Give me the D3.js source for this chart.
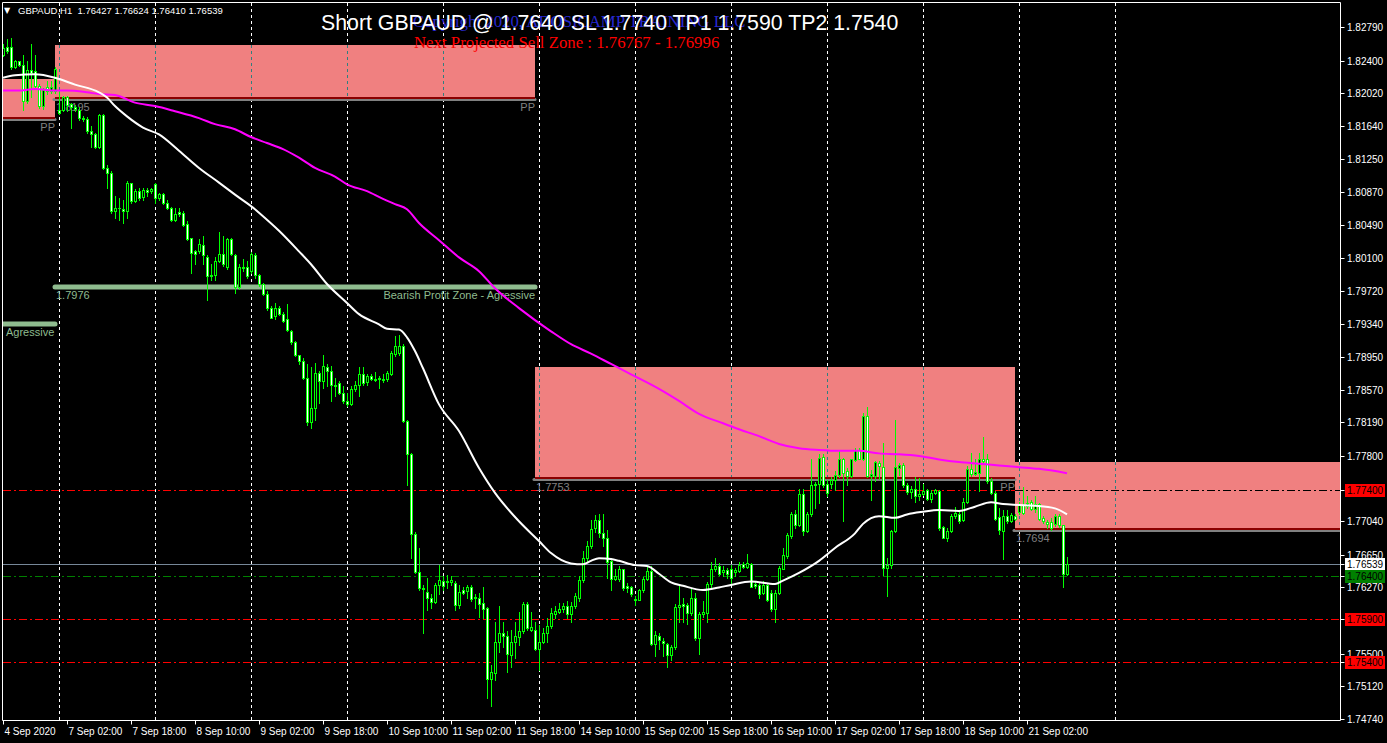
<!DOCTYPE html>
<html><head><meta charset="utf-8">
<script src="https://cdn.jsdelivr.net/npm/d3@7"></script>
<style>html,body{margin:0;padding:0;background:#000;overflow:hidden}</style>
</head><body>
<svg id="chart" width="1387" height="743"></svg>
<script>
// ---------------- DATA ----------------
const opens = [
1.8247,1.8256,1.8256,1.8232,1.8239,1.8235,1.8193,1.8229,1.8228,1.8210,
1.8187,1.8209,1.8204,1.8204,1.8183,1.8183,1.8197,1.8189,1.8186,1.8183,
1.8173,1.8172,1.8158,1.8154,1.8139,1.8177,1.8115,1.8109,1.8065,1.8069,
1.8067,1.8065,1.8097,1.8077,1.8088,1.8081,1.8089,1.8088,1.8096,1.8080,
1.8085,1.8074,1.8069,1.8054,1.8064,1.8063,1.8050,1.8033,1.8018,1.8018,
1.8025,1.8012,1.7991,1.7991,1.8007,1.8015,1.8000,1.8032,1.8014,1.7976,
1.8000,1.8000,1.7995,1.8014,1.7991,1.7980,1.7968,1.7952,1.7943,1.7952,
1.7945,1.7939,1.7925,1.7913,1.7897,1.7890,1.7871,1.7820,1.7836,1.7877,
1.7867,1.7884,1.7879,1.7863,1.7865,1.7853,1.7844,1.7840,1.7858,1.7863,
1.7875,1.7866,1.7873,1.7869,1.7869,1.7870,1.7869,1.7875,1.7899,1.7900,
1.7908,1.7821,1.7782,1.7689,1.7645,1.7626,1.7622,1.7615,1.7610,1.7630,
1.7635,1.7633,1.7633,1.7632,1.7607,1.7624,1.7623,1.7628,1.7616,1.7615,
1.7609,1.7603,1.7521,1.7527,1.7564,1.7574,1.7571,1.7549,1.7564,1.7569,
1.7576,1.7608,1.7578,1.7578,1.7555,1.7564,1.7574,1.7582,1.7596,1.7599,
1.7602,1.7605,1.7596,1.7605,1.7615,1.7636,1.7661,1.7675,1.7696,1.7706,
1.7690,1.7684,1.7658,1.7637,1.7637,1.7648,1.7629,1.7628,1.7614,1.7613,
1.7624,1.7637,1.7646,1.7561,1.7571,1.7565,1.7561,1.7548,1.7558,1.7604,
1.7608,1.7607,1.7597,1.7615,1.7568,1.7596,1.7597,1.7631,1.7648,1.7652,
1.7645,1.7647,1.7648,1.7645,1.7646,1.7654,1.7651,1.7654,1.7631,1.7630,
1.7620,1.7630,1.7620,1.7602,1.7620,1.7649,1.7664,1.7687,1.7712,1.7700,
1.7736,1.7693,1.7713,1.7747,1.7747,1.7779,1.7747,1.7747,1.7752,1.7758,
1.7777,1.7763,1.7757,1.7775,1.7787,1.7777,1.7826,1.7757,1.7757,1.7772,
1.7767,1.7650,1.7653,1.7693,1.7766,1.7769,1.7746,1.7738,1.7741,1.7733,
1.7736,1.7740,1.7730,1.7737,1.7739,1.7697,1.7685,1.7693,1.7710,1.7713,
1.7706,1.7726,1.7765,1.7759,1.7760,1.7776,1.7776,1.7751,1.7737,1.7709,
1.7693,1.7710,1.7704,1.7710,1.7715,1.7723,1.7722,1.7726,1.7718,1.7724,
1.7708,1.7703,1.7703,1.7701,1.7710,1.7700,1.76427];
const highs = [
1.8259,1.8265,1.8266,1.8241,1.8240,1.8247,1.8239,1.8259,1.8247,1.8213,
1.8208,1.8216,1.8216,1.8232,1.8204,1.8199,1.8199,1.8191,1.8188,1.8186,
1.8175,1.8174,1.8164,1.8156,1.8178,1.8178,1.8119,1.8111,1.8082,1.8080,
1.8078,1.8100,1.8098,1.8090,1.8092,1.8092,1.8092,1.8092,1.8098,1.8086,
1.8086,1.8078,1.8070,1.8069,1.8069,1.8065,1.8053,1.8034,1.8020,1.8032,
1.8036,1.8014,1.8003,1.8011,1.8040,1.8036,1.8034,1.8034,1.8015,1.8003,
1.8009,1.8007,1.8017,1.8016,1.7992,1.7981,1.7972,1.7954,1.7958,1.7954,
1.7947,1.7957,1.7926,1.7914,1.7898,1.7894,1.7887,1.7883,1.7888,1.7879,
1.7898,1.7887,1.7885,1.7871,1.7867,1.7861,1.7853,1.7861,1.7867,1.7883,
1.7883,1.7875,1.7875,1.7878,1.7873,1.7875,1.7879,1.7902,1.7919,1.7921,
1.7910,1.7822,1.7783,1.7692,1.7673,1.7630,1.7638,1.7619,1.7632,1.7653,
1.7640,1.7642,1.7640,1.7634,1.7630,1.7628,1.7630,1.7630,1.7619,1.7621,
1.7627,1.7604,1.7537,1.7587,1.7605,1.7587,1.7576,1.7578,1.7587,1.7599,
1.7610,1.7610,1.7599,1.7587,1.7583,1.7580,1.7591,1.7603,1.7605,1.7609,
1.7609,1.7611,1.7610,1.7621,1.7640,1.7670,1.7681,1.7706,1.7711,1.7712,
1.7713,1.7694,1.7661,1.7648,1.7652,1.7649,1.7632,1.7629,1.7617,1.7625,
1.7639,1.7652,1.7652,1.7576,1.7574,1.7568,1.7562,1.7560,1.7608,1.7630,
1.7615,1.7609,1.7626,1.7621,1.7598,1.7611,1.7633,1.7657,1.7661,1.7656,
1.7652,1.7650,1.7653,1.7650,1.7657,1.7657,1.7666,1.7655,1.7634,1.7632,
1.7634,1.7632,1.7624,1.7624,1.7652,1.7673,1.7690,1.7715,1.7717,1.7742,
1.7741,1.7715,1.7777,1.7750,1.7782,1.7782,1.7752,1.7756,1.7762,1.7787,
1.7778,1.7766,1.7777,1.7789,1.7789,1.7830,1.7837,1.7764,1.7774,1.7774,
1.7795,1.7661,1.7694,1.7822,1.7772,1.7772,1.7748,1.7745,1.7755,1.7754,
1.7747,1.7742,1.7740,1.7742,1.7740,1.7699,1.7696,1.7712,1.7721,1.7716,
1.7731,1.7768,1.7783,1.7776,1.7783,1.7802,1.7782,1.7754,1.7739,1.7719,
1.7717,1.7717,1.7714,1.7712,1.7727,1.7744,1.7733,1.7729,1.7733,1.7725,
1.7710,1.7706,1.7708,1.7712,1.7712,1.7700,1.76624];
const lows = [
1.8245,1.8249,1.8230,1.8231,1.8234,1.8182,1.8191,1.8197,1.8208,1.8185,
1.8184,1.8201,1.8202,1.8202,1.8178,1.8181,1.8181,1.8162,1.8181,1.8171,
1.8170,1.8156,1.8139,1.8138,1.8138,1.8114,1.8092,1.8063,1.8057,1.8055,
1.8051,1.8057,1.8074,1.8076,1.8078,1.8078,1.8082,1.8086,1.8074,1.8078,
1.8073,1.8067,1.8053,1.8053,1.8059,1.8048,1.8031,1.7993,1.8003,1.8016,
1.8003,1.7961,1.7985,1.7985,1.8006,1.8001,1.7998,1.8014,1.7970,1.7974,
1.7995,1.7987,1.7993,1.7987,1.7978,1.7967,1.7950,1.7940,1.7939,1.7944,
1.7936,1.7925,1.7910,1.7896,1.7887,1.7869,1.7816,1.7813,1.7822,1.7842,
1.7859,1.7861,1.7844,1.7850,1.7852,1.7842,1.7838,1.7839,1.7856,1.7850,
1.7863,1.7863,1.7868,1.7867,1.7859,1.7866,1.7867,1.7874,1.7896,1.7898,
1.7820,1.7746,1.7661,1.7644,1.7624,1.7574,1.7601,1.7603,1.7609,1.7619,
1.7624,1.7626,1.7630,1.7601,1.7603,1.7619,1.7615,1.7611,1.7603,1.7593,
1.7591,1.7498,1.7489,1.7519,1.7552,1.7558,1.7529,1.7535,1.7545,1.7560,
1.7574,1.7578,1.7576,1.7554,1.7531,1.7562,1.7564,1.7580,1.7591,1.7597,
1.7599,1.7591,1.7587,1.7603,1.7611,1.7633,1.7657,1.7673,1.7692,1.7686,
1.7675,1.7638,1.7624,1.7636,1.7634,1.7624,1.7622,1.7617,1.7607,1.7612,
1.7622,1.7636,1.7560,1.7547,1.7556,1.7547,1.7535,1.7543,1.7556,1.7587,
1.7587,1.7585,1.7595,1.7566,1.7550,1.7593,1.7587,1.7628,1.7646,1.7642,
1.7640,1.7638,1.7632,1.7640,1.7645,1.7650,1.7650,1.7627,1.7626,1.7615,
1.7619,1.7611,1.7600,1.7587,1.7619,1.7648,1.7661,1.7684,1.7696,1.7699,
1.7688,1.7691,1.7710,1.7719,1.7725,1.7744,1.7733,1.7743,1.7740,1.7756,
1.7704,1.7746,1.7756,1.7774,1.7776,1.7775,1.7756,1.7729,1.7751,1.7753,
1.7642,1.7617,1.7650,1.7692,1.7758,1.7744,1.7736,1.7731,1.7727,1.7729,
1.7734,1.7729,1.7727,1.7736,1.7694,1.7684,1.7681,1.7692,1.7708,1.7702,
1.7704,1.7725,1.7757,1.7758,1.7739,1.7772,1.7749,1.7736,1.7706,1.7689,
1.7660,1.7702,1.7703,1.7706,1.7712,1.7712,1.7720,1.7717,1.7715,1.7706,
1.7702,1.7696,1.7694,1.7699,1.7697,1.7628,1.76410];
const closes = [
1.8254,1.8251,1.8232,1.8239,1.8235,1.8193,1.8229,1.8226,1.8210,1.8187,
1.8206,1.8204,1.8209,1.8230,1.8179,1.8197,1.8188,1.8186,1.8184,1.8173,
1.8172,1.8158,1.8154,1.8139,1.8177,1.8115,1.8109,1.8065,1.8069,1.8068,
1.8065,1.8097,1.8077,1.8088,1.8080,1.8089,1.8087,1.8090,1.8080,1.8085,
1.8074,1.8069,1.8054,1.8062,1.8061,1.8049,1.8032,1.8016,1.8015,1.8026,
1.8014,1.7989,1.7989,1.8007,1.8015,1.8003,1.8032,1.8015,1.7976,1.8000,
1.7999,1.7989,1.8015,1.7990,1.7980,1.7968,1.7952,1.7941,1.7952,1.7945,
1.7937,1.7926,1.7912,1.7897,1.7890,1.7871,1.7820,1.7836,1.7877,1.7867,
1.7885,1.7879,1.7862,1.7861,1.7853,1.7844,1.7840,1.7858,1.7862,1.7875,
1.7865,1.7873,1.7869,1.7868,1.7871,1.7868,1.7877,1.7900,1.7908,1.7908,
1.7821,1.7782,1.7689,1.7645,1.7626,1.7625,1.7615,1.7610,1.7630,1.7636,
1.7629,1.7635,1.7636,1.7607,1.7622,1.7621,1.7628,1.7614,1.7615,1.7608,
1.7602,1.7521,1.7529,1.7564,1.7574,1.7571,1.7550,1.7564,1.7570,1.7576,
1.7608,1.7580,1.7581,1.7556,1.7564,1.7574,1.7582,1.7597,1.7600,1.7602,
1.7605,1.7596,1.7605,1.7617,1.7636,1.7661,1.7675,1.7695,1.7706,1.7690,
1.7685,1.7657,1.7637,1.7640,1.7648,1.7626,1.7626,1.7619,1.7612,1.7624,
1.7637,1.7646,1.7561,1.7572,1.7566,1.7562,1.7548,1.7558,1.7604,1.7607,
1.7605,1.7597,1.7615,1.7568,1.7596,1.7599,1.7631,1.7649,1.7652,1.7643,
1.7647,1.7643,1.7638,1.7647,1.7653,1.7651,1.7655,1.7628,1.7629,1.7619,
1.7630,1.7613,1.7602,1.7620,1.7650,1.7665,1.7688,1.7712,1.7700,1.7736,
1.7693,1.7713,1.7746,1.7746,1.7778,1.7746,1.7737,1.7752,1.7758,1.7777,
1.7760,1.7757,1.7776,1.7787,1.7777,1.7827,1.7757,1.7759,1.7773,1.7768,
1.7650,1.7653,1.7693,1.7767,1.7769,1.7746,1.7738,1.7742,1.7733,1.7736,
1.7739,1.7730,1.7737,1.7740,1.7696,1.7685,1.7693,1.7710,1.7714,1.7704,
1.7726,1.7765,1.7759,1.7761,1.7776,1.7774,1.7751,1.7737,1.7707,1.7694,
1.7710,1.7704,1.7711,1.7707,1.7723,1.7714,1.7725,1.7718,1.7724,1.7707,
1.7704,1.7701,1.7696,1.7710,1.7700,1.7643,1.76539];

// moving averages (bar index, value)
const maWhiteIdx = [0,3,8,13,18,24,26,28,31,35,39,44,49,54,58,63,64,69,74,77,81,86,89,94,96,99,101,103,105,109,114,119,123,129,134,137,142,145,147,149,152,154,158,161,164,167,170,175,179,182,187,193,195,199,204,208,213,215,219,223,226,230,234,239,243,247,250,254,258,263,266];
const maWhiteVal = [1.8220,1.8223,1.8224,1.8220,1.8212,1.8203,1.8197,1.8187,1.8175,1.8162,1.8154,1.8135,1.8115,1.8098,1.8084,1.8067,1.8063,1.8042,1.8018,1.8003,1.7980,1.7958,1.7945,1.7933,1.7928,1.7927,1.7918,1.7902,1.7882,1.7840,1.7809,1.7766,1.7737,1.7704,1.7681,1.7667,1.7655,1.7654,1.7658,1.7661,1.7660,1.7658,1.7653,1.7652,1.7643,1.7633,1.7629,1.7624,1.7627,1.7630,1.7634,1.7631,1.7635,1.7644,1.7658,1.7673,1.7690,1.7701,1.7710,1.7708,1.7712,1.7715,1.7717,1.7716,1.7721,1.7726,1.7724,1.7723,1.7722,1.7719,1.7712];
const maMagIdx = [0,4,8,13,16,21,24,28,33,38,43,49,53,58,62,66,70,74,78,83,86,91,95,98,101,104,109,114,119,123,129,137,142,147,152,157,164,169,174,180,184,189,194,199,204,209,214,219,224,229,234,239,244,249,254,259,266];
const maMagVal = [1.8205,1.8205,1.8207,1.8205,1.8205,1.8203,1.8201,1.8200,1.8191,1.8187,1.8181,1.8173,1.8166,1.8160,1.8151,1.8144,1.8137,1.8127,1.8115,1.8105,1.8096,1.8088,1.8079,1.8073,1.8067,1.8051,1.8031,1.8011,1.7995,1.7975,1.7952,1.7925,1.7910,1.7899,1.7887,1.7875,1.7858,1.7844,1.7829,1.7818,1.7811,1.7803,1.7794,1.7789,1.7787,1.7786,1.7786,1.7783,1.7782,1.7780,1.7776,1.7773,1.7771,1.7769,1.7767,1.7765,1.7760];

// axes
const priceTickLabels = ["1.82790","1.82400","1.82020","1.81640","1.81250","1.80870","1.80490","1.80100","1.79720","1.79340","1.78950","1.78570","1.78190","1.77800","1.77040","1.76650","1.76270","1.75500","1.75120","1.74740"];
const timeTickLabels = ["4 Sep 2020","7 Sep 02:00","7 Sep 18:00","8 Sep 10:00","9 Sep 02:00","9 Sep 18:00","10 Sep 10:00","11 Sep 02:00","11 Sep 18:00","14 Sep 10:00","15 Sep 02:00","15 Sep 18:00","16 Sep 10:00","17 Sep 02:00","17 Sep 18:00","18 Sep 10:00","21 Sep 02:00"];
const timeTickIdx = [0,16,32,48,64,80,96,112,128,144,160,176,192,208,224,240,256];
const dayStartIdx = [14,38,62,86,110,134,158,182,206,230,254,278];

// zones
const zoneStartIdx = [13,-2,133,253];
const zoneEndIdx   = [133,13,253,340];
const zoneTop      = [1.8258,1.8218,1.7883,1.7773];
const zoneBottom   = [1.8195,1.8172,1.7753,1.7694];
const zoneLabel    = ["1.8195","","1.7753","1.7694"];
const zonePP       = [true,true,true,false];

// profit-zone lines
const profitStartIdx = [13,-2];
const profitEndIdx   = [133,13];
const profitPrice    = [1.7976,1.7934];

// trade levels
const redLevels = [1.7740,1.7590,1.7540];
const greenLevel = 1.7640;
const bidPrice = 1.76539;
const axisMarks = [["1.77400",1.7740,"#ff0000"],["1.76539",1.76539,"#ffffff"],["1.76400",1.7640,"#008000"],["1.75900",1.7590,"#ff0000"],["1.75400",1.7540,"#ff0000"]];

// ---------------- DRAW ----------------
const W=1387,H=743;
const L=2.5,R=1340.5,T=2.5,B=720.5;
const FONT='"Liberation Sans", Arial, sans-serif';
const SERIF='"Liberation Serif", "Times New Roman", serif';
const x = d3.scaleLinear().domain([0,266]).range([3,1067]);
const y = d3.scaleLinear().domain([1.7474,1.8279]).range([719,27]);
const px = v => Math.round(x(v));
const py = v => Math.round(y(v));

const svg = d3.select("#chart");
svg.append("rect").attr("width",W).attr("height",H).attr("fill","#000");
svg.append("defs").append("clipPath").attr("id","plot")
  .append("rect").attr("x",3).attr("y",3).attr("width",R-3).attr("height",B-3);
const g = svg.append("g").attr("clip-path","url(#plot)");

// zones fill
const zones = d3.range(zoneTop.length).map(k=>({x0:Math.max(3,px(zoneStartIdx[k])),x1:Math.min(R,px(zoneEndIdx[k])),t:py(zoneTop[k]),b:py(zoneBottom[k]),k}));
g.selectAll(".zone").data(zones).enter().append("rect")
  .attr("x",d=>d.x0).attr("y",d=>d.t).attr("width",d=>d.x1-d.x0).attr("height",d=>d.b-2-d.t)
  .attr("fill","#f08080");

// vertical day grid
dayStartIdx.forEach(i=>{
  const gx = px(i)+0.5;
  g.append("line").attr("x1",gx).attr("x2",gx).attr("y1",3).attr("y2",B)
    .attr("stroke","#ffffff").attr("stroke-width",1).attr("stroke-dasharray","3,3");
  zones.forEach(z=>{
    if(gx>z.x0 && gx<z.x1){
      g.append("line").attr("x1",gx).attr("x2",gx).attr("y1",z.t).attr("y2",z.b-2)
        .attr("stroke","#f08080").attr("stroke-width",1);
      g.append("line").attr("x1",gx).attr("x2",gx).attr("y1",z.t).attr("y2",z.b-2)
        .attr("stroke","#2f7f7f").attr("stroke-width",1).attr("stroke-dasharray","3,3");
    }
  });
});

// zone bottom lines
zones.forEach(z=>{
  g.append("line").attr("x1",z.x0-1).attr("x2",z.x1).attr("y1",z.b+0.5).attr("y2",z.b+0.5)
    .attr("stroke","#808080").attr("stroke-width",3).attr("stroke-linecap","round");
  g.append("rect").attr("x",z.x0).attr("y",z.b-2).attr("width",z.x1-z.x0).attr("height",2).attr("fill","#8b0000");
});

// trade level lines
const zoneD = zones[3];
redLevels.forEach(p=>{
  const ly = py(p)+0.5;
  g.append("line").attr("x1",3).attr("x2",R).attr("y1",ly).attr("y2",ly)
    .attr("stroke","#ff0000").attr("stroke-width",1).attr("stroke-dasharray","8,3,2,3");
  if(py(p)>zoneD.t && py(p)<zoneD.b){
    g.append("line").attr("x1",zoneD.x0).attr("x2",R).attr("y1",ly).attr("y2",ly)
      .attr("stroke","#f08080").attr("stroke-width",1);
    g.append("line").attr("x1",zoneD.x0).attr("x2",R).attr("y1",ly).attr("y2",ly)
      .attr("stroke","#000").attr("stroke-width",1).attr("stroke-dasharray","8,3,2,3");
  }
});
g.append("line").attr("x1",3).attr("x2",R).attr("y1",py(greenLevel)+0.5).attr("y2",py(greenLevel)+0.5)
  .attr("stroke","#008000").attr("stroke-width",1).attr("stroke-dasharray","8,3,2,3");
g.append("line").attr("x1",3).attr("x2",R).attr("y1",py(bidPrice)+0.5).attr("y2",py(bidPrice)+0.5)
  .attr("stroke","#778899").attr("stroke-width",1);

// profit zone lines
profitPrice.forEach((p,k)=>{
  g.append("line").attr("x1",px(profitStartIdx[k])).attr("x2",px(profitEndIdx[k])).attr("y1",py(p)).attr("y2",py(p))
    .attr("stroke","#8fbc8f").attr("stroke-width",5).attr("stroke-linecap","round");
});

// labels on objects
const lab = (t,xx,yy,anchor,col)=>g.append("text").text(t).attr("x",xx).attr("y",yy)
  .attr("text-anchor",anchor).attr("fill",col).attr("font-family",FONT).attr("font-size","11px");
zones.forEach(z=>{
  if(zoneLabel[z.k]) lab(zoneLabel[z.k], z.x0+1, z.b+12, "start", "#808080");
  if(zonePP[z.k]) lab("PP", z.x1, z.b+12, "end", "#808080");
});
lab("1.7976", px(profitStartIdx[0])+1, py(profitPrice[0])+12, "start", "#8fbc8f");
lab("Bearish Profit Zone - Agressive", px(profitEndIdx[0]), py(profitPrice[0])+12, "end", "#8fbc8f");
lab("Agressive", 6, py(profitPrice[1])+12, "start", "#8fbc8f");

// candles
const candles = d3.range(opens.length).map(i=>({i,o:opens[i],h:highs[i],l:lows[i],c:closes[i]}));
const cg = g.append("g");
candles.forEach(d=>{
  const cx = px(d.i);
  cg.append("line").attr("x1",cx+0.5).attr("x2",cx+0.5).attr("y1",py(d.h)).attr("y2",py(d.l)+1)
    .attr("stroke","#00ff00").attr("stroke-width",1);
  const yt = py(Math.max(d.o,d.c)), yb = py(Math.min(d.o,d.c));
  if(yb-yt<2){
    cg.append("rect").attr("x",cx-1).attr("y",yt).attr("width",3).attr("height",Math.max(1,yb-yt+1)).attr("fill","#00ff00");
  } else {
    cg.append("rect").attr("x",cx-0.5).attr("y",yt+0.5).attr("width",2).attr("height",yb-yt)
      .attr("fill",d.c>d.o?"#000":"#fff").attr("stroke","#00ff00").attr("stroke-width",1);
  }
});

// moving averages
const lineGen = d3.line().x(d=>x(d[0])).y(d=>y(d[1])).curve(d3.curveMonotoneX);
g.append("path").attr("d",lineGen(maMagIdx.map((v,k)=>[v,maMagVal[k]])))
  .attr("fill","none").attr("stroke","#ff00ff").attr("stroke-width",2);
g.append("path").attr("d",lineGen(maWhiteIdx.map((v,k)=>[v,maWhiteVal[k]])))
  .attr("fill","none").attr("stroke","#ffffff").attr("stroke-width",2);

// header texts
svg.append("text").text("Copyright 2020, ADOSICAMP TRAINING LLC").attr("x",413).attr("y",27)
  .attr("fill","#2828d0").attr("font-family",SERIF).attr("font-size","16.8px");
svg.append("text").text("Short GBPAUD @ 1.7640 SL 1.7740 TP1 1.7590 TP2 1.7540").attr("x",321).attr("y",30)
  .attr("fill","#fff").attr("font-family",FONT).attr("font-size","21.3px");
svg.append("text").text("Next Projected Sell Zone : 1.76767 - 1.76996").attr("x",414).attr("y",48)
  .attr("fill","#ff0000").attr("font-family",SERIF).attr("font-size","16.8px");
svg.append("text").text("▼").attr("x",4).attr("y",13).attr("fill","#fff").attr("font-family","DejaVu Sans").attr("font-size","8px");
svg.append("text").text("GBPAUD,H1  1.76427 1.76624 1.76410 1.76539").attr("x",18).attr("y",14)
  .attr("fill","#fff").attr("font-family",FONT).attr("font-size","9.5px").style("white-space","pre");

// frame
svg.append("path").attr("d",`M${L},${B}V${T}H${R}V${B}H${L}`).attr("fill","none").attr("stroke","#fff").attr("stroke-width",1);

// right price axis
priceTickLabels.forEach(t=>{
  const ty = py(+t)+0.5;
  svg.append("line").attr("x1",R).attr("x2",R+4).attr("y1",ty).attr("y2",ty).attr("stroke","#fff");
  svg.append("text").text(t).attr("x",1347).attr("y",ty+3.5).attr("fill","#fff")
    .attr("font-family",FONT).attr("font-size","10px");
});
axisMarks.forEach(m=>{
  const ty = py(m[1])+0.5;
  svg.append("line").attr("x1",R).attr("x2",R+4).attr("y1",ty).attr("y2",ty).attr("stroke","#fff");
  svg.append("rect").attr("x",1345).attr("y",ty-6.5).attr("width",40).attr("height",13).attr("fill",m[2]);
  svg.append("text").text(m[0]).attr("x",1347).attr("y",ty+3.5).attr("fill","#000")
    .attr("font-family",FONT).attr("font-size","10px");
});

// bottom time axis
timeTickLabels.forEach((t,k)=>{
  const tx = px(timeTickIdx[k])+0.5;
  svg.append("line").attr("x1",tx).attr("x2",tx).attr("y1",B).attr("y2",B+4).attr("stroke","#fff");
  svg.append("text").text(t).attr("x",tx+1).attr("y",735).attr("fill","#fff")
    .attr("font-family",FONT).attr("font-size","10px");
});
</script>
</body></html>
